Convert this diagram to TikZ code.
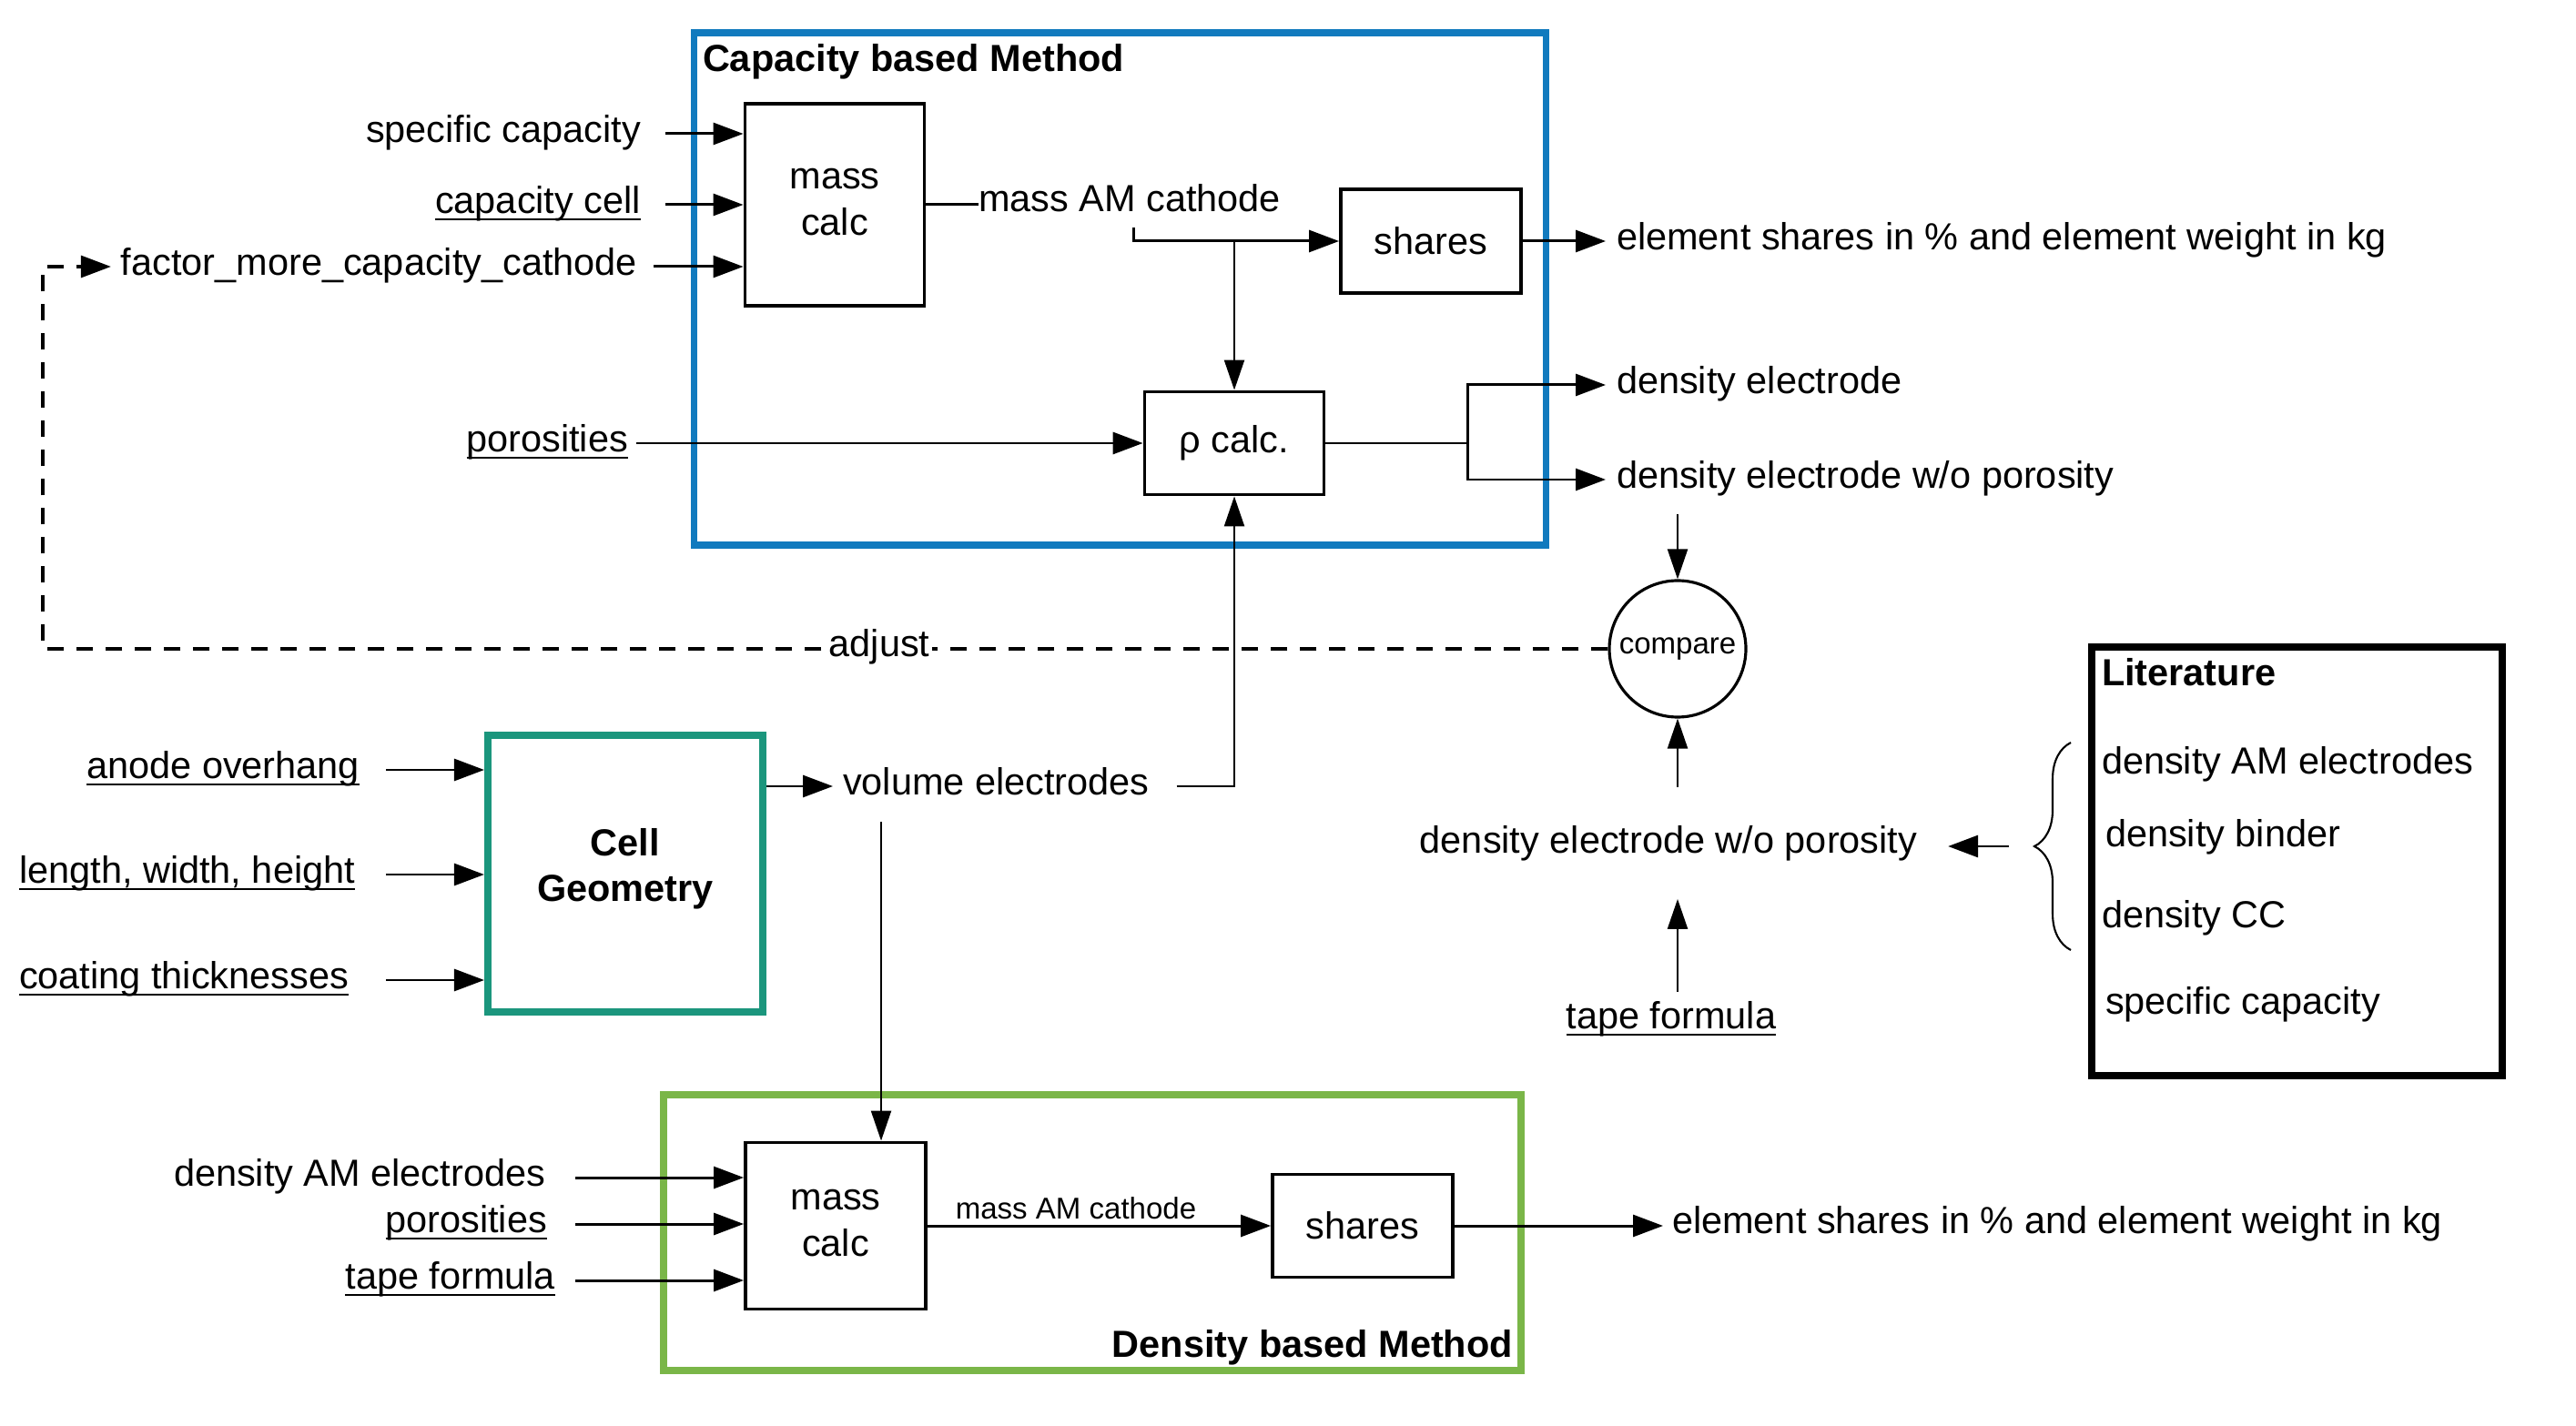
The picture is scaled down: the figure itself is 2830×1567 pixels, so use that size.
\documentclass[tikz,border=0pt]{standalone}
\usepackage{fontspec}
\setmainfont{Liberation Sans}
\usetikzlibrary{arrows.meta,decorations.pathreplacing}
\definecolor{capblue}{RGB}{17,122,190}
\definecolor{geoteal}{RGB}{27,150,125}
\definecolor{dengreen}{RGB}{122,182,72}
\newcommand{\ulx}[1]{\setbox0=\hbox{#1}\rlap{\rule[-2.2pt]{\wd0}{0.65pt}}\box0}
\begin{document}
\begin{tikzpicture}[x=0.1mm,y=-0.1mm,
  font=\fontsize{11.8}{14.5}\selectfont,
  lbl/.style={inner sep=0pt, outer sep=0pt},
  bfnt/.style={font=\fontsize{11.8}{14.2}\selectfont\bfseries},
  box/.style={draw, line width=1.1pt, inner sep=0pt, align=center},
  arr/.style={line width=0.85pt, -{Triangle[length=3.3mm,width=2.4mm]}},
  tarr/.style={line width=0.65pt, -{Triangle[length=3.3mm,width=2.2mm]}},
  dsh/.style={line width=0.9pt, dash pattern=on 1.8mm off 1.4mm, -{Triangle[length=3.3mm,width=2.4mm]}}]
\useasboundingbox (0,0) rectangle (2830,1567);

% ---------- Capacity based method ----------
\node[draw=capblue, line width=2pt, minimum width=93.6mm, minimum height=56.3mm, inner sep=0pt] (capbox) at (1230,317.5) {};
\node[lbl, bfnt, anchor=mid west] (captitle) at (772,69) {Capacity based Method};

\node[box, minimum width=19.7mm, minimum height=22.2mm] (mc1) at (917,225) {};
\node[lbl, align=center] (mc1t) at ([yshift=0.3mm]mc1.center) {mass\\calc};
\node[lbl, anchor=mid east] (sc) at (704,147) {specific capacity};
\node[lbl, anchor=mid east] (cc) at (704,225) {\ulx{capacity cell}};
\node[lbl, anchor=mid east] (fm) at (700,293) {factor\_more\_capacity\_cathode};
\draw[arr] ([xshift=2.7mm]sc.mid east) -- (mc1.west |- sc.mid east);
\draw[arr] ([xshift=2.7mm]cc.mid east) -- (mc1.west |- cc.mid east);
\draw[arr] ([xshift=1.8mm]fm.mid east) -- (mc1.west |- fm.mid east);

\node[lbl, anchor=mid west] (mamc) at (1075,223) {mass AM cathode};
\draw[line width=0.85pt] (mc1.east) -- (mc1.east -| mamc.west);

\node[box, minimum width=19.8mm, minimum height=11.4mm] (sh1) at (1572,265) {shares};
\node[box, minimum width=19.7mm, minimum height=11.3mm] (rho) at (1356,487) {ρ calc.};

\coordinate (j0) at (1245,250);
\coordinate (j1) at (1356,265);
\draw[arr] (j0) |- (sh1.west);
\draw[tarr] (j1) -- (rho.north);

\node[lbl, anchor=mid west, inner xsep=1.2mm] (es1) at (1764,265) {element shares in \% and element weight in kg};
\draw[arr] (sh1.east) -- (es1.mid west);

\node[lbl, anchor=mid east] (por1) at (690,487) {\ulx{porosities}};
\draw[arr] ([xshift=0.9mm]por1.mid east) -- (rho.west);

\coordinate (rj) at (1612,487);
\node[lbl, anchor=mid west, inner xsep=1.2mm] (de) at (1764,423) {density electrode};
\node[lbl, anchor=mid west, inner xsep=1.2mm] (dewo1) at (1764,527) {density electrode w/o porosity};
\draw[line width=0.85pt] (rho.east) -- (rj);
\draw[arr] (rj) |- (de.mid west);
\draw[arr] (rj) |- (dewo1.mid west);

% ---------- compare / adjust ----------
\node[circle, draw, line width=0.9pt, minimum size=15mm, inner sep=0pt, font=\fontsize{9.4}{11}\selectfont] (cmp) at (1843,713) {compare};
\coordinate (c0) at (1843,565);
\draw[tarr] (c0) -- (cmp.north);

\coordinate (dk) at (47,713);
\coordinate (du) at (47,293);
\draw[dsh] (cmp.west) -- (dk) -- (du) -- ([xshift=-1.1mm]fm.mid west);
\node[lbl, fill=white, inner xsep=0.3mm, inner ysep=0.5mm] (adj) at (966,711) {adjust};

% ---------- Cell geometry ----------
\node[draw=geoteal, line width=2.3pt, minimum width=30.2mm, minimum height=30.4mm, inner sep=0pt] (cg) at (687,960) {};
\node[lbl, align=center, bfnt] (cgt) at ([yshift=0.5mm]cg.center) {Cell\\Geometry};
\node[lbl, anchor=mid east] (ao) at (395,846) {\ulx{anode overhang}};
\node[lbl, anchor=mid east] (lwh) at (390,961) {\ulx{length, width, height}};
\node[lbl, anchor=mid east] (ct) at (383,1077) {\ulx{coating thicknesses}};
\draw[arr] ([xshift=2.9mm]ao.mid east) -- (cg.west |- ao.mid east);
\draw[arr] ([xshift=3.4mm]lwh.mid east) -- (cg.west |- lwh.mid east);
\draw[arr] ([xshift=4.1mm]ct.mid east) -- (cg.west |- ct.mid east);

\node[lbl, anchor=mid west, inner xsep=1.1mm] (ve) at (915,864) {volume electrodes};
\draw[arr] (cg.east |- ve.mid west) -- (ve.mid west);
\draw[tarr] ([xshift=1.9mm]ve.mid east) -| (rho.south);

% ---------- Density based method ----------
\node[draw=dengreen, line width=2.3pt, minimum width=94.2mm, minimum height=30.3mm, inner sep=0pt] (denbox) at (1200,1354.5) {};
\node[lbl, bfnt, anchor=mid east] (dentitle) at (1662,1482) {Density based Method};

\node[box, minimum width=19.8mm, minimum height=18.3mm] (mc2) at (918,1347) {};
\node[lbl, align=center] (mc2t) at ([yshift=0.3mm]mc2.center) {mass\\calc};
\coordinate (v0) at (968,903);
\draw[tarr] (v0) -- (v0 |- mc2.north);

\node[lbl, anchor=mid east] (dam) at (599,1294) {density AM electrodes};
\node[lbl, anchor=mid east] (por2) at (601,1345) {\ulx{porosities}};
\node[lbl, anchor=mid east] (tf1) at (610,1407) {\ulx{tape formula}};
\draw[arr] ([xshift=3.3mm]dam.mid east) -- (mc2.west |- dam.mid east);
\draw[arr] ([xshift=3.1mm]por2.mid east) -- (mc2.west |- por2.mid east);
\draw[arr] ([xshift=2.2mm]tf1.mid east) -- (mc2.west |- tf1.mid east);

\node[box, minimum width=19.8mm, minimum height=11.3mm] (sh2) at (1497,1347) {shares};
\draw[arr] (mc2.east) -- (sh2.west);
\node[lbl, anchor=mid, font=\fontsize{9.4}{11}\selectfont] (mamc2) at (1182,1330) {mass AM cathode};

\node[lbl, anchor=mid west, inner xsep=1mm] (es2) at (1827,1346) {element shares in \% and element weight in kg};
\draw[arr] (sh2.east) -- (es2.mid west |- sh2.east);

% ---------- right side ----------
\node[lbl, anchor=mid, inner xsep=3.4mm, inner ysep=4.2mm] (dewo2) at (1833,928) {density electrode w/o porosity};
\draw[tarr] (cmp |- dewo2.north) -- (cmp.south);
\node[lbl, anchor=mid, inner ysep=1mm] (tf2) at (1836,1121) {\ulx{tape formula}};
\draw[tarr] (cmp |- tf2.north) -- (cmp |- dewo2.south);

\coordinate (b0) at (2207,930);
\draw[arr] (b0) -- (dewo2.east |- b0);
\draw[line width=0.6pt, decorate, decoration={brace, amplitude=4mm}] (2275,1044) -- (2275,816);

\node[draw, line width=2.3pt, minimum width=45.1mm, minimum height=47.1mm, inner sep=0pt] (lit) at (2523.5,946.5) {};
\node[lbl, bfnt, anchor=mid west] (littitle) at (2309,744) {Literature};
\node[lbl, anchor=mid west] (l1) at (2309,841) {density AM electrodes};
\node[lbl, anchor=mid west] (l2) at (2313,921) {density binder};
\node[lbl, anchor=mid west] (l3) at (2309,1010) {density CC};
\node[lbl, anchor=mid west] (l4) at (2313,1105) {specific capacity};
\end{tikzpicture}
\end{document}
